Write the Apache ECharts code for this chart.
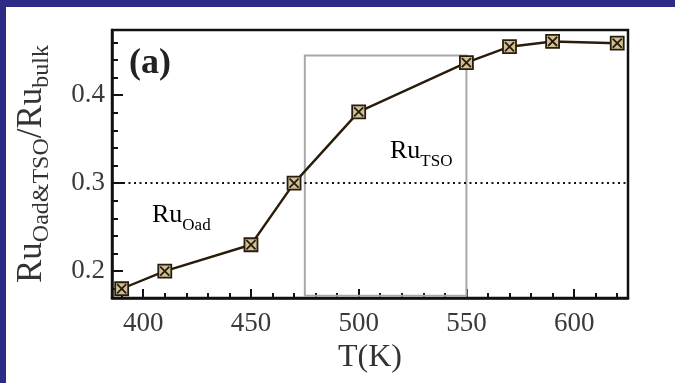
<!DOCTYPE html>
<html>
<head>
<meta charset="utf-8">
<script src="https://cdn.jsdelivr.net/npm/echarts@6/dist/echarts.min.js"></script>
<style>
  html, body { margin: 0; padding: 0; background: #fff; }
  #chart { width: 675px; height: 383px; }
</style>
</head>
<body>
<div id="chart"></div>
<script>
// Temperature (K) and the Ru fraction measured at each temperature
const temps = [390, 410, 450, 470, 500, 550, 570, 590, 620];
const ratio = [0.180, 0.200, 0.230, 0.300, 0.381, 0.437, 0.455, 0.461, 0.459];

// Axis labels and tick positions
const xLabels = [400, 450, 500, 550, 600];
const xMinor = [390, 410, 420, 430, 440, 460, 470, 480, 490, 510, 520, 530, 540, 560, 570, 580, 590, 610, 620];
const yLabels = [0.2, 0.3, 0.4];
const yMinor = [0.18, 0.22, 0.24, 0.26, 0.28, 0.32, 0.34, 0.36, 0.38, 0.42, 0.44, 0.46];

// Highlighted TSO window and the 0.3 reference level
const tsoBox = { x0: 475, x1: 550, y0: 0.172, y1: 0.445 };
const refLevel = 0.3;

const serif = '"Liberation Serif", "DejaVu Serif", serif';
const xRange = [385.5, 625];
const yRange = [0.1695, 0.474];

const chart = echarts.init(document.getElementById('chart'), null, { renderer: 'canvas' });

const boxMark = 'path://M0,0H10V10H0Z M1.5,1.5L8.5,8.5 M8.5,1.5L1.5,8.5';

const subText = (big, small) => ({
  a: { fontFamily: serif, fontSize: big, lineHeight: big * 1.25, verticalAlign: 'top', color: '#222' },
  s: { fontFamily: serif, fontSize: small, lineHeight: big * 1.25, verticalAlign: 'bottom', color: '#222', padding: [big * 0.5, 0, 0, 0] }
});

chart.setOption({
  animation: false,
  backgroundColor: '#ffffff',
  grid: {
    left: 112, right: 47, top: 30, bottom: 85,
    show: true, borderColor: '#111', borderWidth: 2.5, backgroundColor: 'transparent'
  },
  xAxis: [
    {
      type: 'value', min: xRange[0], max: xRange[1], position: 'bottom',
      splitLine: { show: false },
      axisLine: { show: true, lineStyle: { color: '#111', width: 2.5 } },
      axisTick: { show: true, inside: true, length: 9, customValues: xLabels, lineStyle: { color: '#111', width: 2 } },
      axisLabel: { customValues: xLabels, color: '#3a3a3a', fontFamily: serif, fontSize: 27, margin: 12 },
      name: 'T(K)', nameLocation: 'middle', nameGap: 42,
      nameTextStyle: { color: '#333', fontFamily: serif, fontSize: 32 }
    },
    {
      type: 'value', min: xRange[0], max: xRange[1], position: 'bottom',
      splitLine: { show: false },
      axisLine: { show: false },
      axisTick: { show: true, inside: true, length: 5, customValues: xMinor, lineStyle: { color: '#111', width: 2 } },
      axisLabel: { show: false }
    }
  ],
  yAxis: [
    {
      type: 'value', min: yRange[0], max: yRange[1], position: 'left',
      splitLine: { show: false },
      axisLine: { show: true, lineStyle: { color: '#111', width: 2.5 } },
      axisTick: { show: true, inside: true, length: 11, customValues: yLabels, lineStyle: { color: '#111', width: 2 } },
      axisLabel: { customValues: yLabels, color: '#3a3a3a', fontFamily: serif, fontSize: 27, margin: 7,
        formatter: v => v.toFixed(1) },
      name: '{a|Ru}{s|Oad&TSO}{a|/Ru}{s|bulk}',
      nameLocation: 'middle', nameRotate: 90, nameGap: 58,
      nameTextStyle: {
        color: '#333', fontFamily: serif,
        rich: {
          a: { fontFamily: serif, fontSize: 35, color: '#333', lineHeight: 40, verticalAlign: 'top' },
          s: { fontFamily: serif, fontSize: 24, color: '#333', lineHeight: 40, verticalAlign: 'bottom', padding: [16, 0, 0, 0] }
        }
      }
    },
    {
      type: 'value', min: yRange[0], max: yRange[1], position: 'left',
      splitLine: { show: false },
      axisLine: { show: false },
      axisTick: { show: true, inside: true, length: 6, customValues: yMinor, lineStyle: { color: '#111', width: 2 } },
      axisLabel: { show: false }
    }
  ],
  series: [
    {
      type: 'line',
      data: temps.map((t, i) => [t, ratio[i]]),
      lineStyle: { color: '#2a1c0c', width: 2.4 },
      symbol: boxMark, symbolSize: 13, showAllSymbol: true,
      itemStyle: { color: '#cfc197', borderColor: '#2a1c0c', borderWidth: 1.8 },
      z: 5,
      markLine: {
        silent: true, symbol: 'none', label: { show: false },
        lineStyle: { color: '#111', type: [2, 3.5], width: 2.2 },
        data: [{ yAxis: refLevel }]
      },
      markArea: {
        silent: true, label: { show: false },
        itemStyle: { color: 'rgba(0,0,0,0)', borderColor: '#a8a8a8', borderWidth: 2 },
        data: [[{ coord: [tsoBox.x0, tsoBox.y1] }, { coord: [tsoBox.x1, tsoBox.y0] }]]
      }
    }
  ],
  graphic: [
    { type: 'rect', shape: { x: 0, y: 0, width: 675, height: 7 }, style: { fill: '#2e2b87' }, z: 100 },
    { type: 'rect', shape: { x: 0, y: 0, width: 6, height: 383 }, style: { fill: '#2e2b87' }, z: 100 },
    { type: 'text', left: 129, top: 46, z: 50,
      style: { text: '(a)', font: 'bold 36px ' + serif, fill: '#222' } },
    { type: 'text', left: 152, top: 202, z: 50,
      style: { text: '{a|Ru}{s|Oad}', rich: subText(26, 17) } },
    { type: 'text', left: 390, top: 138, z: 50,
      style: { text: '{a|Ru}{s|TSO}', rich: subText(26, 17) } }
  ]
});
</script>
</body>
</html>
